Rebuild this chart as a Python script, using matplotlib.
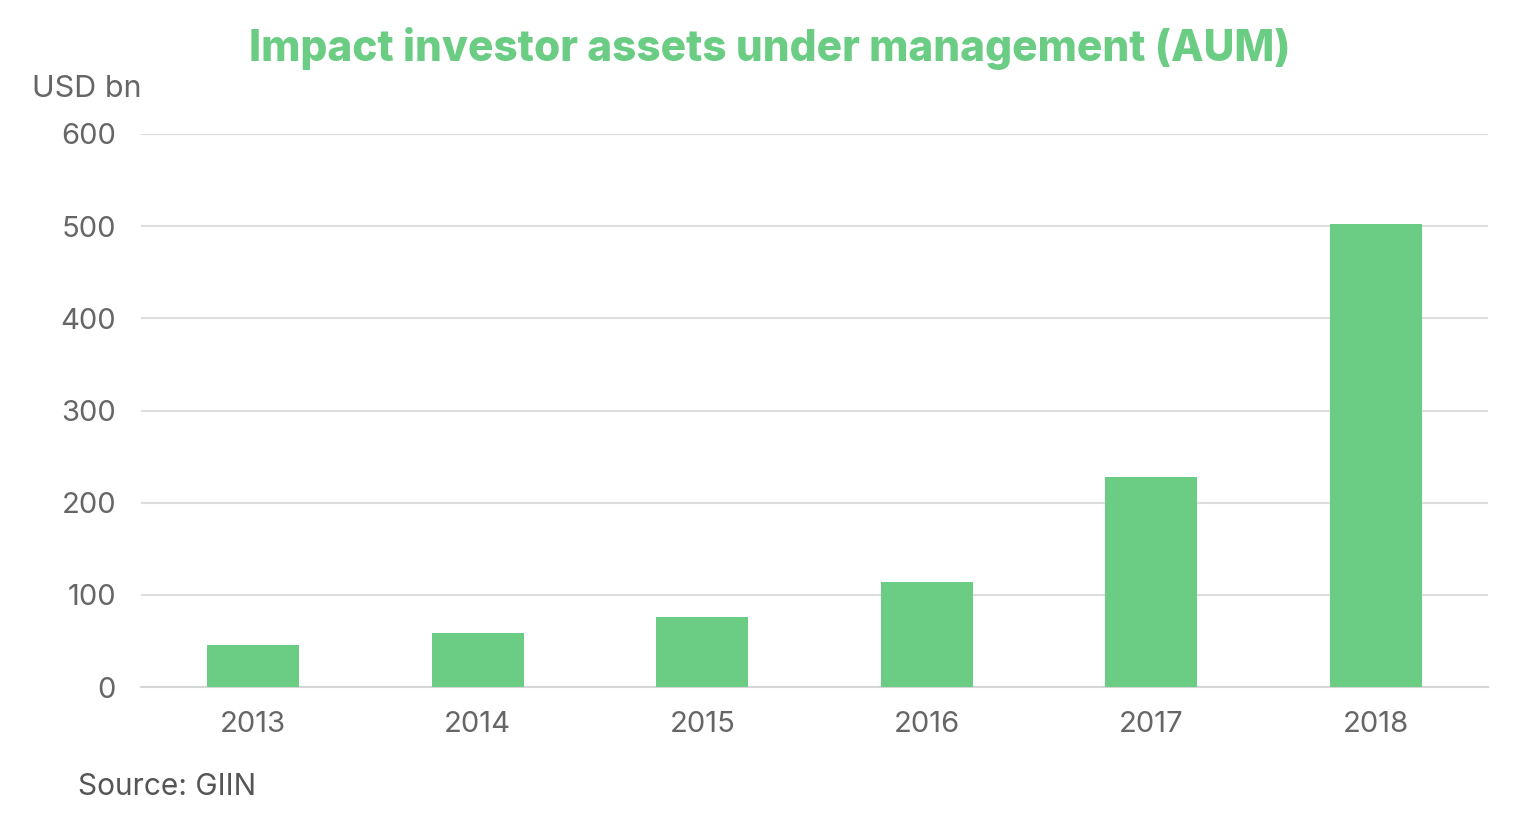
import matplotlib
matplotlib.use("Agg")
import matplotlib.pyplot as plt

years = ["2013", "2014", "2015", "2016", "2017", "2018"]
aum = [46, 59, 76, 114, 228, 502]
yticks = [0, 100, 200, 300, 400, 500, 600]

green = "#6bcc84"
grey = "#666666"

plt.rcParams['font.family'] = ['Inter', 'Lato', 'DejaVu Sans']

fig = plt.figure(figsize=(15.16, 8.26), dpi=100)
ax = fig.add_axes([141 / 1516, 1 - 687 / 826, 1347 / 1516, 553 / 826])

ax.bar(range(len(years)), aum, width=0.41, color=green, zorder=3)
ax.set_xlim(-0.5, len(years) - 0.5)
ax.set_ylim(0, 600)
ax.set_yticks(yticks)
ax.set_xticks(range(len(years)))
ax.set_xticklabels(years)
ax.grid(axis="y", color="#dddddd", linewidth=1.5, zorder=0)
ax.set_axisbelow(True)
for s in ["top", "right", "left"]:
    ax.spines[s].set_visible(False)
ax.spines["bottom"].set_color("#d6d6d6")
ax.spines["bottom"].set_linewidth(1.5)
ax.tick_params(length=0, labelsize=21, colors=grey)
ax.tick_params(axis="y", pad=18)
ax.tick_params(axis="x", pad=17)

fig.text(770 / 1516, 1 - 48 / 826, "Impact investor assets under management (AUM)",
         ha="center", va="center", fontsize=30.5, fontweight="heavy", color=green)
fig.text(32 / 1516, 1 - 89 / 826, "USD bn", ha="left", va="center", fontsize=22,
         color=grey)
fig.text(78 / 1516, 1 - 787 / 826, "Source: GIIN", ha="left", va="center", fontsize=21.5,
         color="#555555")

fig.savefig("out.png", dpi=100)
